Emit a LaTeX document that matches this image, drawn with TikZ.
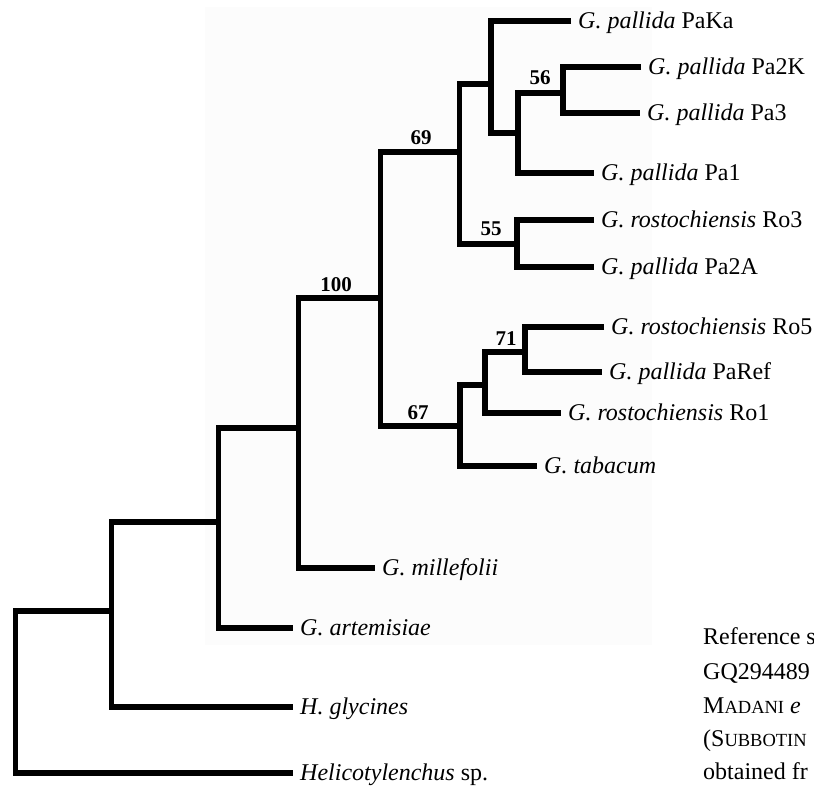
\documentclass[tikz,border=0pt]{standalone}
\usepackage{fontspec}
\setmainfont{Liberation Serif}
\definecolor{bgpanel}{RGB}{252,252,252}
\begin{document}
\begin{tikzpicture}[x=1pt,y=-1pt,
  branch/.style={line width=5.5pt, line join=miter, line cap=butt},
  leaf/.style={anchor=west, inner xsep=7pt, inner ysep=0pt, text height=21pt, text depth=6pt, font=\fontsize{24}{28}\selectfont},
  boot/.style={anchor=base, inner sep=0pt, font=\fontsize{21}{24}\selectfont\bfseries},
  captext/.style={anchor=base west, inner sep=0pt, font=\fontsize{24}{28}\selectfont}]
\useasboundingbox (0,0) rectangle (814,786);
\fill[bgpanel] (205,7) rectangle (652,645);

% leaves
\node[leaf] (paka)  at (571,21)  {\textit{G. pallida} PaKa};
\node[leaf] (pa2k)  at (641,67)  {\textit{G. pallida} Pa2K};
\node[leaf] (pa3)   at (640,113) {\textit{G. pallida} Pa3};
\node[leaf] (pa1)   at (594,173) {\textit{G. pallida} Pa1};
\node[leaf] (ro3)   at (594,220) {\textit{G. rostochiensis} Ro3};
\node[leaf] (pa2a)  at (594,267) {\textit{G. pallida} Pa2A};
\node[leaf] (ro5)   at (604,327) {\textit{G. rostochiensis} Ro5};
\node[leaf] (paref) at (602,372) {\textit{G. pallida} PaRef};
\node[leaf] (ro1)   at (561,413) {\textit{G. rostochiensis} Ro1};
\node[leaf] (tab)   at (537,466) {\textit{G. tabacum}};
\node[leaf] (mill)  at (375,568) {\textit{G. millefolii}};
\node[leaf] (art)   at (293,628) {\textit{G. artemisiae}};
\node[leaf] (gly)   at (293,707) {\textit{H. glycines}};
\node[leaf] (hel)   at (293,773) {\textit{Helicotylenchus} sp.};

% internal nodes
\coordinate (n56)  at (563,93);
\coordinate (nB)   at (518,133);
\coordinate (nA)   at (491,84);
\coordinate (n55)  at (517,244);
\coordinate (n69)  at (459.5,152);
\coordinate (n71)  at (525,352);
\coordinate (nC)   at (485,385);
\coordinate (n67)  at (460,426);
\coordinate (n100) at (380.5,298);
\coordinate (nD)   at (298.5,428);
\coordinate (nE)   at (218.6,522);
\coordinate (nF)   at (111.6,611);
\coordinate (root) at (15.5,611);

% branches
\draw[branch] (pa2k.west) -| (n56) |- (pa3.west);
\draw[branch] (n56) -| (nB) |- (pa1.west);
\draw[branch] (paka.west) -| (nA) |- (nB);
\draw[branch] (ro3.west) -| (n55) |- (pa2a.west);
\draw[branch] (nA) -| (n69) |- (n55);
\draw[branch] (ro5.west) -| (n71) |- (paref.west);
\draw[branch] (n71) -| (nC) |- (ro1.west);
\draw[branch] (nC) -| (n67) |- (tab.west);
\draw[branch] (n69) -| (n100) |- (n67);
\draw[branch] (n100) -| (nD) |- (mill.west);
\draw[branch] (nD) -| (nE) |- (art.west);
\draw[branch] (nE) -| (nF) |- (gly.west);
\draw[branch] (nF) -- (root) |- (hel.west);

% bootstrap values
\node[boot] (b100) at (336,292) {100};
\node[boot] (b69)  at (421,145) {69};
\node[boot] (b56)  at (540,85)  {56};
\node[boot] (b55)  at (491,236) {55};
\node[boot] (b71)  at (506,345) {71};
\node[boot] (b67)  at (418,419) {67};

% caption (cut at the right edge, as in the reference)
\begin{scope}
\clip (0,0) rectangle (814,786);
\node[captext] (c1) at (703,644.7) {Reference s};
\node[captext] (c2) at (703,679) {GQ294489};
\node[captext] (c3) at (703,713) {M{\fontsize{18.5}{20}\selectfont ADANI} \textit{e}};
\node[captext] (c4) at (703,746.5) {(S{\fontsize{18.5}{20}\selectfont UBBOTIN}};
\node[captext] (c5) at (703,779.5) {obtained fr};
\end{scope}
\end{tikzpicture}
\end{document}
